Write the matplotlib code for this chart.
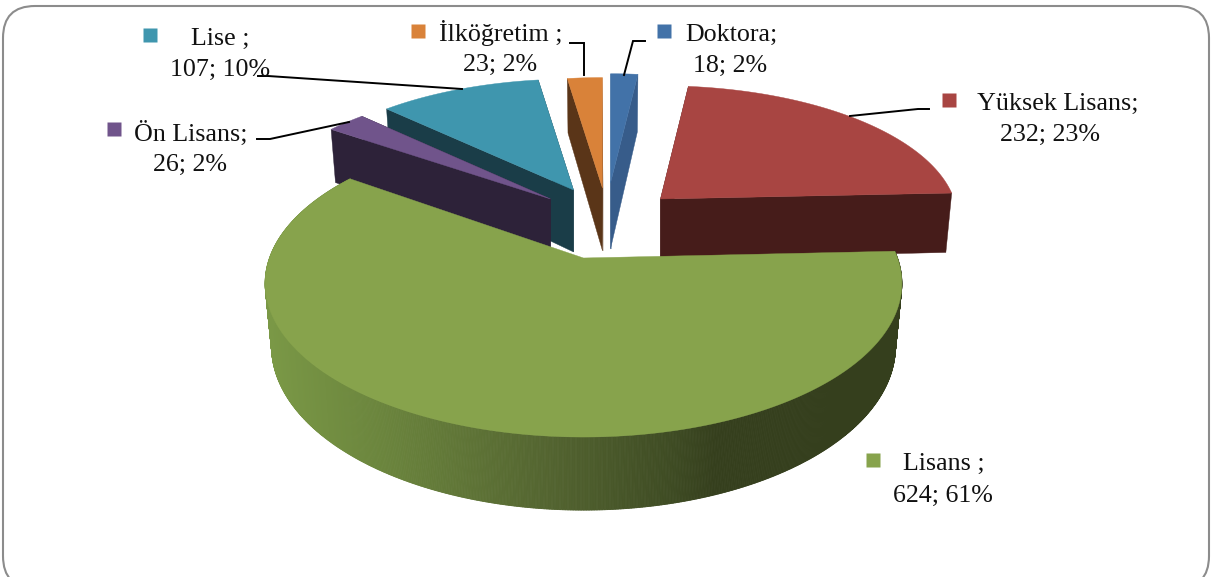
import numpy as np
import matplotlib
matplotlib.use("Agg")
import matplotlib.pyplot as plt
from matplotlib.collections import PolyCollection
from matplotlib.colors import to_rgb
from matplotlib.patches import FancyBboxPatch, Polygon

# ---- data (clockwise from 12 o'clock) ----
categories = ["Doktora", "Yüksek Lisans", "Lisans ", "Ön Lisans", "Lise ", "İlköğretim "]
values = [18, 232, 624, 26, 107, 23]
percents = [2, 23, 61, 2, 10, 2]

# ---- styles ----
top_colors = ["#4272a8", "#a84542", "#87a34c", "#70548b", "#3f96ae", "#d98239"]
side_colors = ["#375c8a", "#461c1a", "#55682f", "#2d2239", "#1a3d48", "#5a3518"]
explode_px = [27, 77, 0, -33, -10, 19]
explode_v = [0.547, 0.4223, 0.0, 0.4223, 0.492, 0.507]
depths = [72, 64, 61, 62, 67, 68]
draw_order = [0, 5, 1, 4, 3, 2]

CX, CY, RX, RY, K, SHRINK = 583.5, 258, 314, 149.5, 0.165, 0.98

fig = plt.figure(figsize=(12.12, 5.77), dpi=100)
ax = fig.add_axes([0, 0, 1, 1])
ax.set_xlim(0, 1212)
ax.set_ylim(577, 0)
ax.axis("off")
plt.rcParams["font.family"] = ["Liberation Serif", "DejaVu Serif"]

ax.add_patch(FancyBboxPatch((3, 6), 1206, 582, boxstyle="round,pad=0,rounding_size=32",
                            fc="white", ec="#8c8c8c", lw=1.5, zorder=0))


def project(ang, rad, i, bottom=False):
    """Perspective projection of a pie point; angle clockwise from the top."""
    u = rad * np.sin(ang)
    v = rad * np.cos(ang) + explode_v[i]
    w = 1 + K * v
    scale = SHRINK if bottom else 1.0
    x = CX + explode_px[i] + scale * RX * u / w
    y = CY - RY * v / w
    if bottom:
        y = y + depths[i] / w
    return np.column_stack([np.broadcast_to(x, np.shape(ang)), np.broadcast_to(y, np.shape(ang))])


edges = np.radians(np.concatenate([[0], np.cumsum(values)]) / np.sum(values) * 360)
z = 2
for i in draw_order:
    a0, a1 = edges[i], edges[i + 1]
    ang = np.linspace(a0, a1, max(int(np.degrees(a1 - a0) * 4), 8))
    arc_t = project(ang, 1.0, i)
    arc_b = project(ang, 1.0, i, bottom=True)
    tip_t = project(np.array([a0]), 0.0, i)
    tip_b = project(np.array([a0]), 0.0, i, bottom=True)

    if i == 2:  # large slice: shaded outer wall
        stops_x = [268, 380, 550, 675, 716, 905]
        stops_c = np.array([to_rgb(c) for c in
                            ["#7a9846", "#6b853d", "#536430", "#3e4b23", "#353f1d", "#353f1d"]])
        quads, cols = [], []
        for j in range(len(ang) - 1):
            quads.append([arc_t[j], arc_t[j + 1], arc_b[j + 1], arc_b[j]])
            xm = (arc_t[j, 0] + arc_t[j + 1, 0]) / 2
            cols.append([np.interp(xm, stops_x, stops_c[:, c]) for c in range(3)])
        ax.add_collection(PolyCollection(quads, facecolors=cols, edgecolors=cols,
                                         linewidths=0.6, zorder=z))
    else:
        for j in (0, -1):
            ax.add_patch(Polygon([tip_t[0], arc_t[j], arc_b[j], tip_b[0]], closed=True,
                                 fc=side_colors[i], ec=side_colors[i], lw=0.3, zorder=z))
    ax.add_patch(Polygon(np.vstack([tip_t, arc_t]), closed=True, fc=top_colors[i],
                         ec=top_colors[i], lw=0.3, zorder=z + 0.5))
    z += 1

# ---- data labels ----
name_pos = [(731, 32), (1058, 101), (944, 461), (191, 131), (220, 36), (501, 31)]
value_pos = [(730, 63), (1050, 132), (943, 493), (190, 162), (220, 67), (500, 62)]
key_pos = [(664, 31), (949, 100), (873, 460), (114, 129), (150, 35), (418, 31)]
FS = 26.0 / 1.389
for i, cat in enumerate(categories):
    ax.text(*name_pos[i], f"{cat};", ha="center", va="center_baseline", fontsize=FS,
            color="#111111", zorder=20)
    ax.text(*value_pos[i], f"{values[i]}; {percents[i]}%", ha="center", va="center_baseline",
            fontsize=FS, color="#111111", zorder=20)
    ax.plot(*key_pos[i], marker="s", ms=10, mfc=top_colors[i], mec="none", zorder=20)

# ---- leader lines ----
leaders = [
    [(624, 75), (633, 41), (645, 41)],
    [(850, 116), (918, 109), (929, 109)],
    [(258, 76), (268, 76), (462, 89)],
    [(257, 139), (270, 139), (349, 122)],
    [(570, 43), (584, 43), (584, 75)],
]
for pts in leaders:
    xs, ys = zip(*pts)
    ax.plot(xs, ys, color="black", lw=1.4, solid_joinstyle="miter", zorder=15)

fig.savefig("out.png", dpi=100, facecolor="white")
